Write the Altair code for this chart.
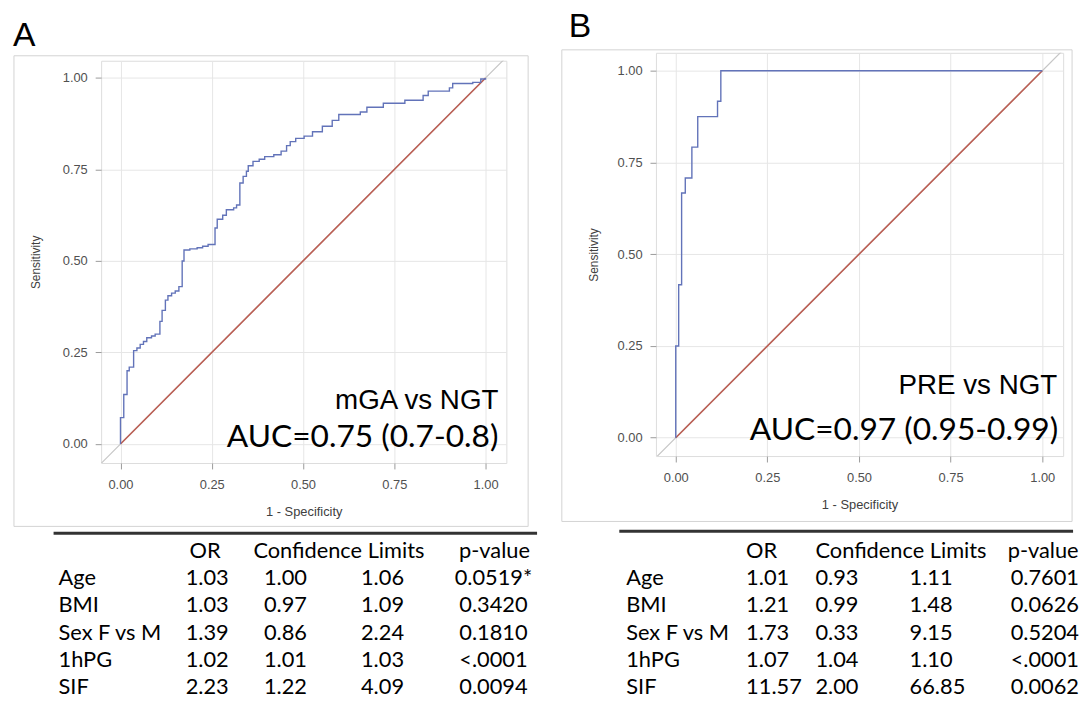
import altair as alt
import pandas as pd

# ---------------- data ----------------
# Panel A ROC (mGA vs NGT): 1-specificity / sensitivity after each rise
a_fpr = [0.0, 0.0, 0.009, 0.018, 0.024, 0.036, 0.045, 0.054, 0.063, 0.072, 0.085, 0.095,
         0.108, 0.114, 0.123, 0.130, 0.140, 0.150, 0.160, 0.169, 0.174, 0.190, 0.210, 0.225,
         0.240, 0.259, 0.265, 0.280, 0.290, 0.310, 0.318, 0.327, 0.336, 0.345, 0.350, 0.363,
         0.380, 0.395, 0.420, 0.440, 0.455, 0.465, 0.480, 0.503, 0.526, 0.553, 0.580, 0.598,
         0.657, 0.675, 0.720, 0.779, 0.829, 0.843, 0.901, 0.910, 0.965, 0.987, 1.0]
a_tpr = [0.0, 0.072, 0.135, 0.200, 0.210, 0.255, 0.262, 0.272, 0.280, 0.290, 0.295, 0.300,
         0.335, 0.365, 0.393, 0.405, 0.412, 0.418, 0.430, 0.500, 0.530, 0.533, 0.536, 0.540,
         0.545, 0.590, 0.614, 0.625, 0.640, 0.645, 0.653, 0.713, 0.731, 0.745, 0.760, 0.772,
         0.778, 0.785, 0.790, 0.800, 0.815, 0.826, 0.835, 0.841, 0.853, 0.868, 0.884, 0.900,
         0.907, 0.920, 0.931, 0.939, 0.952, 0.964, 0.973, 0.985, 0.988, 0.997, 1.0]

# Panel B ROC (PRE vs NGT)
b_fpr = [0.0, 0.0, 0.008, 0.016, 0.026, 0.044, 0.060, 0.114, 0.123, 1.0]
b_tpr = [0.0, 0.250, 0.417, 0.667, 0.708, 0.792, 0.875, 0.917, 1.0, 1.0]

ticks = [0.0, 0.25, 0.5, 0.75, 1.0]
chance = [0.0, 1.0]
diag_ext = [-0.2, 1.2]

rows = ["Age", "BMI", "Sex F vs M", "1hPG", "SIF"]
header = ["OR", "Confidence Limits", "p-value"]

a_or = [1.03, 1.03, 1.39, 1.02, 2.23]
a_lo = [1.00, 0.97, 0.86, 1.01, 1.22]
a_hi = [1.06, 1.09, 2.24, 1.03, 4.09]
a_p = ["0.0519*", "0.3420", "0.1810", "<.0001", "0.0094"]

b_or = [1.01, 1.21, 1.73, 1.07, 11.57]
b_lo = [0.93, 0.99, 0.33, 1.04, 2.00]
b_hi = [1.11, 1.48, 9.15, 1.10, 66.85]
b_p = ["0.7601", "0.0626", "0.5204", "<.0001", "0.0062"]

# ---------------- styles ----------------
BLUE = "#6273b9"
RED = "#bb5e53"
DIAG = "#c6c6c6"
AXFONT = "Liberation Sans"
TFONT = "Lato"
ONE = pd.DataFrame({"k": [0]})


def roc_panel(fpr, tpr, W, H, xdom, ydom, p):
    xs = alt.Scale(domain=xdom, nice=False, zero=False)
    ys = alt.Scale(domain=ydom, nice=False, zero=False)
    xax = alt.Axis(values=ticks, format=".2f", title="1 - Specificity", grid=True,
                   gridColor="#e6e6e6", domain=False, tickColor="#9a9a9a", tickSize=6,
                   labelPadding=10, labelFont=AXFONT, labelFontSize=13, labelColor="#505050",
                   titleFont=AXFONT, titleFontSize=13, titleFontWeight="normal",
                   titleColor="#404040", titlePadding=14)
    yax = alt.Axis(values=ticks, format=".2f", title="Sensitivity", grid=True,
                   gridColor="#e6e6e6", domain=False, tickColor="#9a9a9a", tickSize=6,
                   labelPadding=8, labelFont=AXFONT, labelFontSize=13, labelColor="#505050",
                   titleFont=AXFONT, titleFontSize=12, titleFontWeight="normal",
                   titleColor="#404040", titlePadding=p["ytp"])

    grey = alt.Chart(pd.DataFrame({"x": diag_ext, "y": diag_ext})).mark_line(
        color=DIAG, strokeWidth=1.2, clip=True).encode(
        x=alt.X("x:Q", scale=xs, axis=xax), y=alt.Y("y:Q", scale=ys, axis=yax))
    red = alt.Chart(pd.DataFrame({"x": chance, "y": chance})).mark_line(
        color=RED, strokeWidth=1.6).encode(x=alt.X("x:Q", scale=xs), y=alt.Y("y:Q", scale=ys))
    df = pd.DataFrame({"fpr": fpr, "tpr": tpr, "o": list(range(len(fpr)))})
    line = alt.Chart(df).mark_line(interpolate="step-after", color=BLUE, strokeWidth=1.4).encode(
        x=alt.X("fpr:Q", scale=xs), y=alt.Y("tpr:Q", scale=ys), order="o:Q")
    roc = alt.layer(grey, red, line)

    # table
    ydomain = ["hdr"] + rows
    yenc = alt.Y("row:N", scale=alt.Scale(domain=ydomain, range=p["trange"], padding=0),
                 axis=None)
    tdf = pd.DataFrame({"row": rows, "or": p["or"], "lo": p["lo"], "hi": p["hi"], "p": p["p"]})
    hdf = pd.DataFrame({"row": ["hdr"]})
    tl = []
    tl.append(alt.Chart(tdf).mark_text(align="left", baseline="middle", font=TFONT,
                                       fontSize=22, color="black").encode(
        x=alt.value(p["cx"][0]), y=yenc, text="row:N"))
    for i, (fld, fmt) in enumerate([("or", ".2f"), ("lo", ".2f"), ("hi", ".2f"), ("p", None)]):
        if fmt:
            tx = alt.Text(f"{fld}:Q", format=fmt)
        else:
            tx = alt.Text(f"{fld}:N")
        tl.append(alt.Chart(tdf).mark_text(align=p["align"], baseline="middle", font=TFONT,
                                           fontSize=22, color="black").encode(
            x=alt.value(p["cx"][i + 1]), y=yenc, text=tx))
    for h, hx, ha in zip(header, p["hx"], p["halign"]):
        tl.append(alt.Chart(hdf).mark_text(align=ha, baseline="middle", font=TFONT,
                                           fontSize=22, color="black").encode(
            x=alt.value(hx), y=yenc, text=alt.value(h)))
    table = alt.layer(*tl)

    # decorations
    box = alt.Chart(ONE).mark_rect(fill=None, fillOpacity=0, stroke="#d2d2d2", strokeWidth=1).encode(
        x=alt.value(p["box"][0]), x2=alt.value(p["box"][1]),
        y=alt.value(p["box"][2]), y2=alt.value(p["box"][3]))
    rule = alt.Chart(ONE).mark_rule(color="#333333", strokeWidth=3).encode(
        x=alt.value(p["rule"][0]), x2=alt.value(p["rule"][1]), y=alt.value(p["rule"][2]))
    letter = alt.Chart(ONE).mark_text(align="left", baseline="top", font=AXFONT,
                                      fontSize=34, color="black").encode(
        x=alt.value(p["letter"][0]), y=alt.value(p["letter"][1]), text=alt.value(p["letter"][2]))
    marker = alt.Chart(ONE).mark_rect(opacity=0).encode(
        x=alt.value(0), x2=alt.value(2), y=alt.value(p["top"]), y2=alt.value(p["top"] + 2))
    lab1 = alt.Chart(ONE).mark_text(align="right", baseline="alphabetic", font=AXFONT,
                                    fontSize=28, color="black").encode(
        x=alt.value(p["lab1"][0]), y=alt.value(p["lab1"][1]), text=alt.value(p["lab1"][2]))
    lab2 = alt.Chart(ONE).mark_text(align="right", baseline="alphabetic", font=TFONT,
                                    fontSize=32, color="black").encode(
        x=alt.value(p["lab2"][0]), y=alt.value(p["lab2"][1]), text=alt.value(p["lab2"][2]))
    deco = alt.layer(box, rule, letter, marker, lab1, lab2)

    panel = alt.layer(roc, table, deco).resolve_scale(y="independent").properties(
        width=W, height=H)
    spacer = alt.Chart(ONE).mark_rect(opacity=0).encode(
        x=alt.value(0), x2=alt.value(1), y=alt.value(0), y2=alt.value(1)
    ).properties(width=1, height=1, view=alt.ViewBackground(strokeOpacity=0))
    return alt.vconcat(spacer, panel, spacing=0)


pA = {
    "or": a_or, "lo": a_lo, "hi": a_hi, "p": a_p,
    "trange": [495, 632], "align": "center",
    "cx": [-43, 107, 186, 284, 396], "hx": [105, 240, 397],
    "halign": ["center", "center", "center"],
    "box": [-88, 431, -5, 470], "rule": [-48, 440, 477],
    "letter": [-89, -42, "A"], "top": -54, "ytp": 20,
    "lab1": [401, 351, "mGA vs NGT"], "lab2": [401, 390, "AUC=0.75 (0.7-0.8)"],
}
pB = {
    "or": b_or, "lo": b_lo, "hi": b_hi, "p": b_p,
    "trange": [503, 640], "align": "left",
    "cx": [-30, 91, 161, 256, 358], "hx": [91, 161, 355],
    "halign": ["left", "left", "left"],
    "box": [-95, 420, -3, 473], "rule": [-37, 421, 483],
    "letter": [-88, -43, "B"], "top": -46, "ytp": 17,
    "lab1": [405, 344, "PRE vs NGT"], "lab2": [406, 391, "AUC=0.97 (0.95-0.99)"],
}

panelA = roc_panel(a_fpr, a_tpr, 409, 406, [-0.053, 1.057], [-0.052, 1.047], pA)
panelB = roc_panel(b_fpr, b_tpr, 411, 407, [-0.054, 1.057], [-0.050, 1.049], pB)

chart = alt.hconcat(panelA, panelB, spacing=22).properties(
    padding={"left": 4, "top": -6, "right": 0, "bottom": 0}
).configure_view(stroke="#a8a8a8", strokeWidth=1).configure(background="white")

chart.save("out.html", embed_options={"renderer": "svg", "actions": False})
